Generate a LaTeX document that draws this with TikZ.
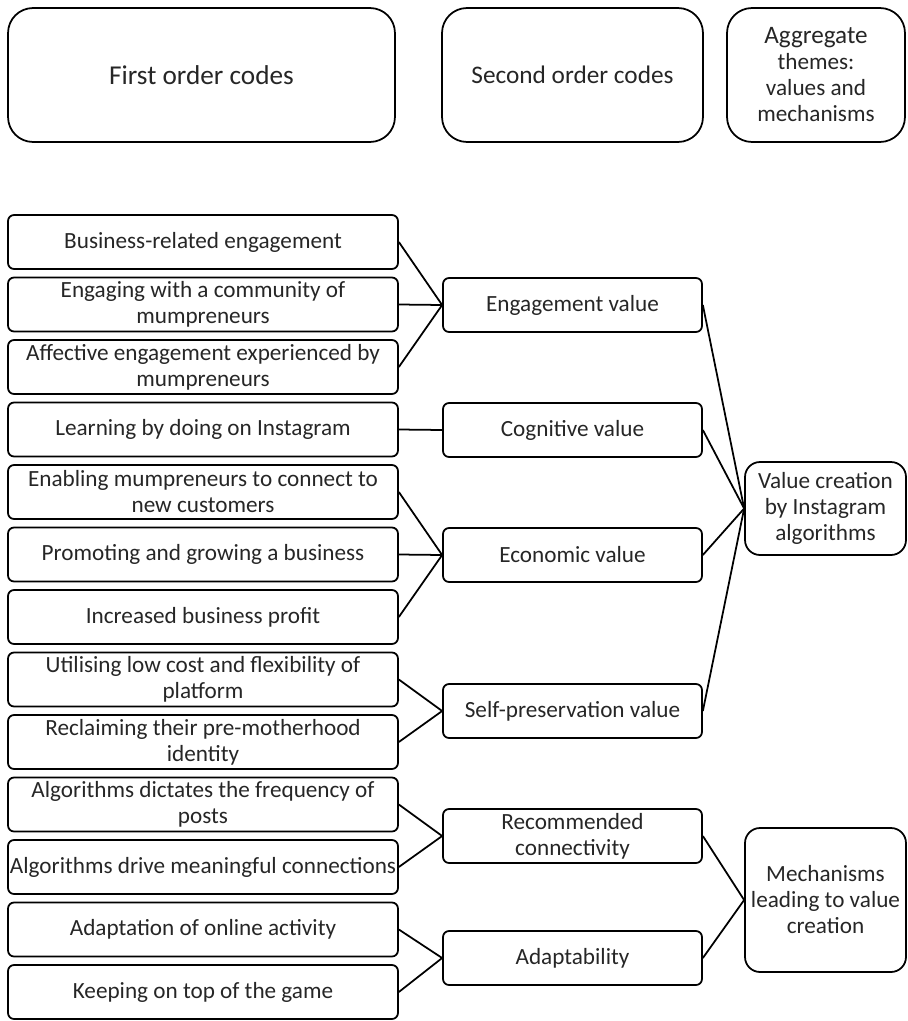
\documentclass[tikz,border=0pt]{standalone}
\usepackage{fontspec}
\setmainfont{Carlito}
\usepackage{tikz}

\begin{document}
\begin{tikzpicture}[x=0.02cm,y=-0.02cm,
    headbox/.style={draw,line width=1pt,rounded corners=0.5cm,align=center,inner sep=0pt,minimum height=2.68cm},
    codebox/.style={draw,line width=1pt,rounded corners=0.12cm,align=center,inner sep=0pt,minimum width=7.8cm,minimum height=1.08cm},
    midbox/.style={draw,line width=1pt,rounded corners=0.12cm,align=center,inner sep=0pt,minimum width=5.18cm,minimum height=1.08cm},
    themebox/.style={draw,line width=1pt,rounded corners=0.3cm,align=center,inner sep=0pt,minimum width=3.22cm},
    every node/.style={font=\fontsize{13.2}{14.8}\selectfont,text=black!85},
    link/.style={line width=1pt}]
    \useasboundingbox (0,0) rectangle (907,1021);

    % Column headings:
    \node[headbox,minimum width=7.74cm] (hfirst) at (201.5,75) {\fontsize{15.5}{18}\selectfont First order codes};
    \node[headbox,minimum width=5.22cm] (hsecond) at (572.5,75) {\fontsize{14.4}{17}\selectfont Second order codes};
    \node[headbox,minimum width=3.56cm] (hthemes) at (816,75) {\fontsize{14.3}{15.8}\selectfont Aggregate\\themes:\\values and\\mechanisms};

    % First order codes:
    \node[codebox] (busi) at (203,242) {Business-related engagement};
    \node[codebox] (comm) at (203,304.5) {Engaging with a community of\\mumpreneurs};
    \node[codebox] (affe) at (203,367) {Affective engagement experienced by\\mumpreneurs};
    \node[codebox] (lear) at (203,429.5) {Learning by doing on Instagram};
    \node[codebox] (enab) at (203,492) {Enabling mumpreneurs to connect to\\new customers};
    \node[codebox] (prom) at (203,554.5) {Promoting and growing a business};
    \node[codebox] (prof) at (203,617) {Increased business profit};
    \node[codebox] (util) at (203,679.5) {Utilising low cost and flexibility of\\platform};
    \node[codebox] (recl) at (203,742) {Reclaiming their pre-motherhood\\identity};
    \node[codebox] (dict) at (203,804.5) {Algorithms dictates the frequency of\\posts};
    \node[codebox] (driv) at (203,867) {Algorithms drive meaningful connections};
    \node[codebox] (adap) at (203,929.5) {Adaptation of online activity};
    \node[codebox] (keep) at (203,992) {Keeping on top of the game};

    % Second order codes:
    \node[midbox] (engval) at (572.5,305) {Engagement value};
    \node[midbox] (cogval) at (572.5,430) {Cognitive value};
    \node[midbox] (ecoval) at (572.5,555) {Economic value};
    \node[midbox] (selfval) at (572.5,711) {Self-preservation value};
    \node[midbox] (recconn) at (572.5,836) {Recommended\\connectivity};
    \node[midbox] (adapt) at (572.5,958) {Adaptability};

    % Aggregate themes:
    \node[themebox,minimum height=1.86cm] (valcre) at (825.5,508.5) {Value creation\\by Instagram\\algorithms};
    \node[themebox,minimum height=2.88cm] (mech) at (825.5,900) {Mechanisms\\leading to value\\creation};

    % First to second order:
    \draw[link] (busi.east) -- (engval.west);
    \draw[link] (comm.east) -- (engval.west);
    \draw[link] (affe.east) -- (engval.west);
    \draw[link] (lear.east) -- (cogval.west);
    \draw[link] (enab.east) -- (ecoval.west);
    \draw[link] (prom.east) -- (ecoval.west);
    \draw[link] (prof.east) -- (ecoval.west);
    \draw[link] (util.east) -- (selfval.west);
    \draw[link] (recl.east) -- (selfval.west);
    \draw[link] (dict.east) -- (recconn.west);
    \draw[link] (driv.east) -- (recconn.west);
    \draw[link] (adap.east) -- (adapt.west);
    \draw[link] (keep.east) -- (adapt.west);

    % Second order to themes:
    \draw[link] (engval.east) -- (valcre.west);
    \draw[link] (cogval.east) -- (valcre.west);
    \draw[link] (ecoval.east) -- (valcre.west);
    \draw[link] (selfval.east) -- (valcre.west);
    \draw[link] (recconn.east) -- (mech.west);
    \draw[link] (adapt.east) -- (mech.west);
\end{tikzpicture}
\end{document}
